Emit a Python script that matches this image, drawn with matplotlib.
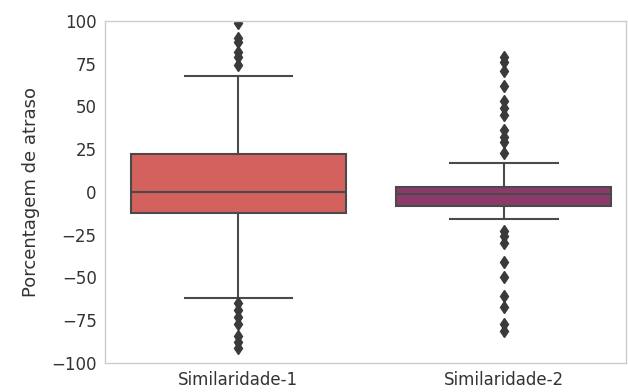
import matplotlib
matplotlib.use("Agg")
import matplotlib.pyplot as plt

categories = ["Similaridade-1", "Similaridade-2"]
medians = [0, -1]
q1 = [-12, -8]
q3 = [22, 3]
whisker_low = [-62, -16]
whisker_high = [68, 17]
outliers = [
    [99, 90, 88, 82, 79, 74, -65, -69, -73, -77, -84, -88, -91],
    [79, 76, 71, 62, 53, 49, 45, 36, 32, 29, 23,
     -23, -26, -30, -41, -50, -61, -67, -77, -81],
]
colors = ["#d3625f", "#8c3a6a"]

plt.rcParams['font.family'] = ['DejaVu Sans']
fig = plt.figure(figsize=(6.28, 3.92), dpi=100)
ax = fig.add_axes([105/628, 1-363/392, 521/628, 342/392])

stats = []
for i in range(len(categories)):
    stats.append(dict(med=medians[i], q1=q1[i], q3=q3[i],
                      whislo=whisker_low[i], whishi=whisker_high[i],
                      fliers=outliers[i], label=categories[i]))

line_c = "#4a4a4a"
bp = ax.bxp(stats, positions=range(len(categories)), widths=0.81,
            patch_artist=True, showfliers=True,
            boxprops=dict(edgecolor=line_c, linewidth=1.5),
            medianprops=dict(color=line_c, linewidth=1.5),
            whiskerprops=dict(color=line_c, linewidth=1.5),
            capprops=dict(color=line_c, linewidth=1.5),
            flierprops=dict(marker='d', markerfacecolor="#3a3a3a",
                            markeredgecolor="#3a3a3a", markersize=6))
for patch, c in zip(bp['boxes'], colors):
    patch.set_facecolor(c)

ax.set_xlim(-0.502, 1.46)
ax.set_ylim(-100, 100)
ax.set_yticks([-100, -75, -50, -25, 0, 25, 50, 75, 100])
ax.set_xticks(range(len(categories)))
ax.set_xticklabels(categories)
ax.set_ylabel("Porcentagem de atraso", fontsize=13, color="#333333", labelpad=8)
ax.tick_params(axis='both', length=0, labelsize=12, labelcolor="#333333", pad=6)
for s in ax.spines.values():
    s.set_color("#cccccc")
    s.set_linewidth(1.0)
fig.savefig("out.png", dpi=100)
